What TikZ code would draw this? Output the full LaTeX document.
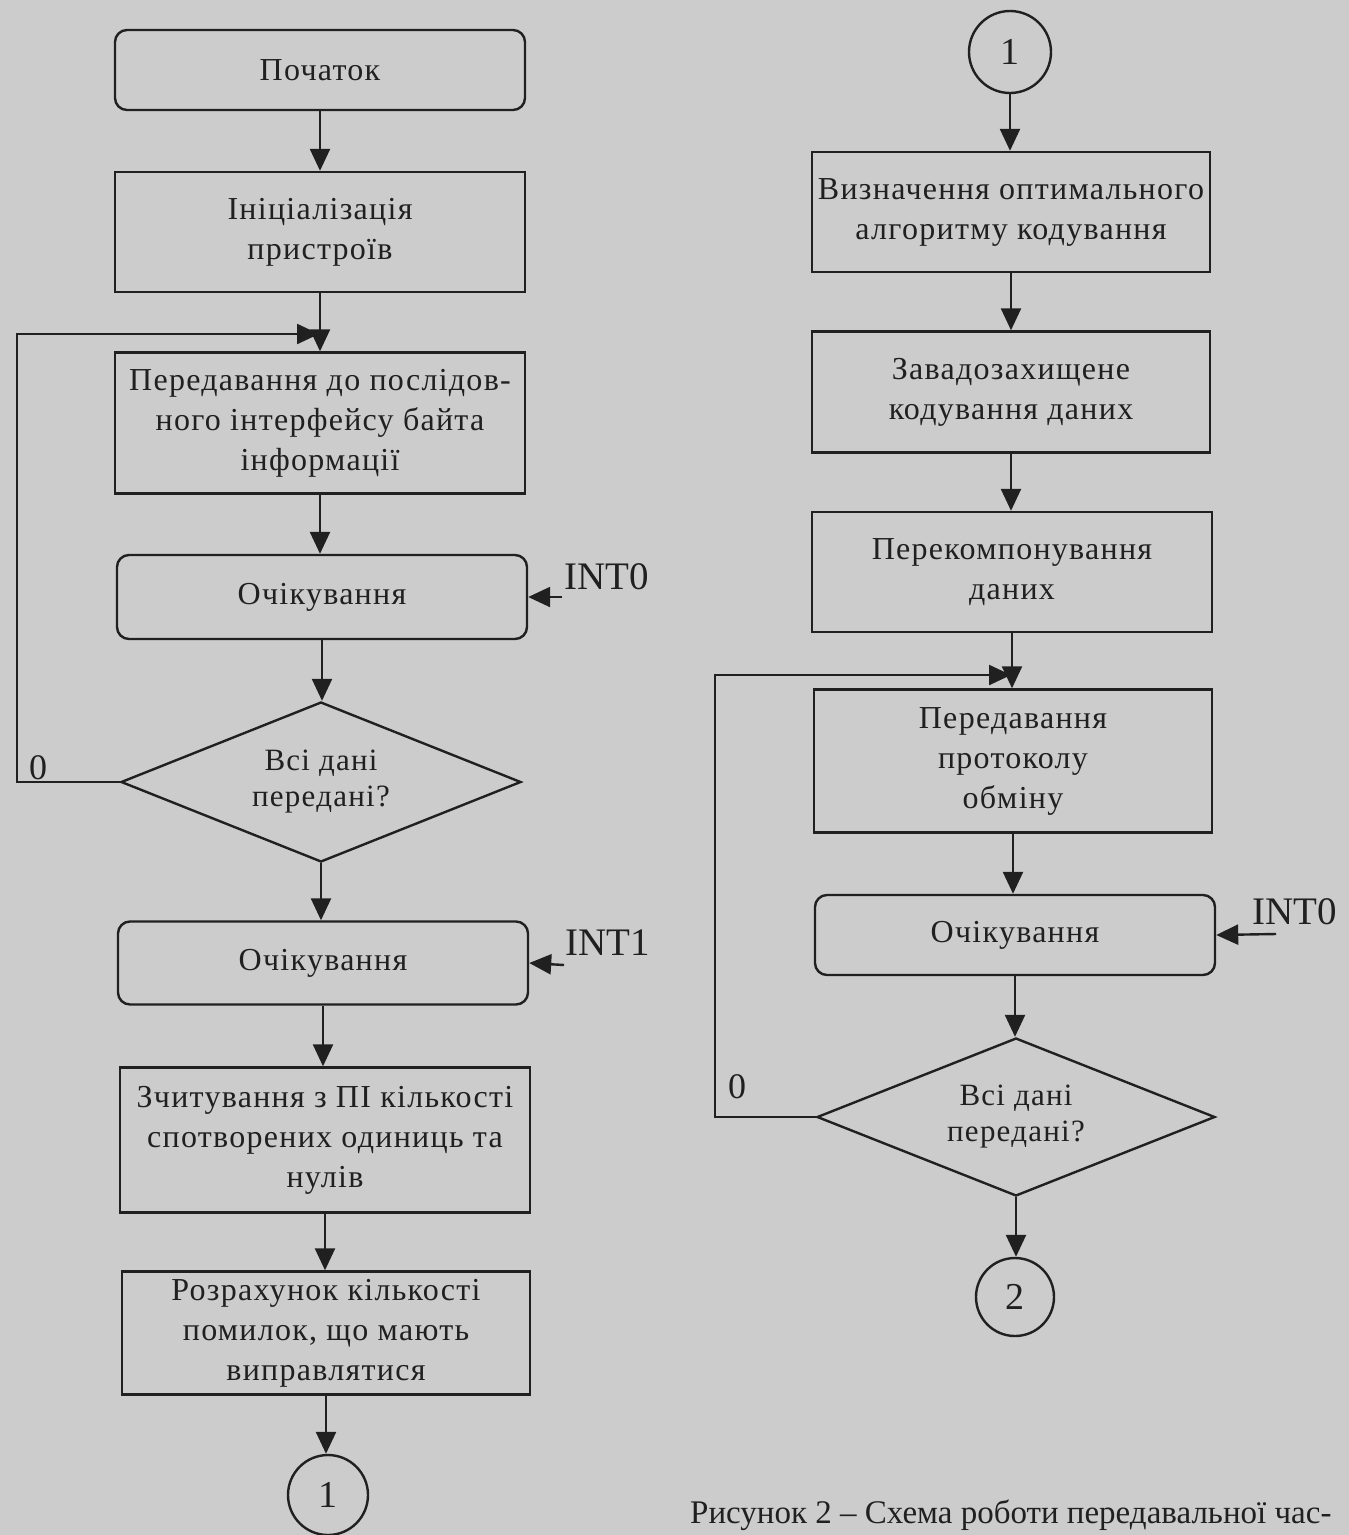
\documentclass[tikz,border=0pt]{standalone}
\usepackage{fontspec}
\setmainfont{Liberation Serif}
\newfontfamily\boxfont[LetterSpace=4]{Liberation Serif}
\usetikzlibrary{arrows.meta,shapes.geometric}
\definecolor{bg}{RGB}{204,204,204}
\definecolor{ink}{RGB}{32,32,32}
\begin{document}
\begin{tikzpicture}[x=1pt,y=-1pt,
  base/.style={draw=ink, line width=2.4pt, inner sep=0pt, align=center, text=ink,
    font=\boxfont\fontsize{32}{40}\selectfont},
  procbox/.style={base, rectangle},
  waitbox/.style={base, rectangle, rounded corners=12pt},
  decbox/.style={base, diamond, aspect=2.5, font=\boxfont\fontsize{31}{36}\selectfont},
  connbox/.style={base, circle, minimum size=#1, font=\fontsize{38}{40}\selectfont},
  lbl/.style={text=ink, inner sep=0pt, font=\fontsize{39}{42}\selectfont},
  flow/.style={draw=ink, line width=2.4pt, -{Triangle[width=20pt,length=22pt]}},
  line/.style={draw=ink, line width=2.4pt}
]
\fill[bg] (0,0) rectangle (1349,1535);
\useasboundingbox (0,0) rectangle (1349,1535);

% ---------- left column ----------
\node[waitbox, minimum width=410pt, minimum height=80pt] (start) at (320,70) {Початок};
\node[procbox, minimum width=410pt, minimum height=120pt] (init) at (320,232) {Ініціалізація\\пристроїв};
\node[procbox, minimum width=410pt, minimum height=141pt] (send) at (320,423) {Передавання до послідов-\\ного інтерфейсу байта\\інформації};
\node[waitbox, minimum width=410pt, minimum height=84pt] (waitA) at (322,597) {Очікування};
\node[decbox, minimum width=400pt, minimum height=160pt] (decA) at (321,782) {Всі дані\\передані?};
\node[waitbox, minimum width=410pt, minimum height=83pt] (waitB) at (323,963) {Очікування};
\node[procbox, minimum width=410pt, minimum height=145pt] (read) at (325,1140) {Зчитування з ПІ кількості\\спотворених одиниць та\\нулів};
\node[procbox, minimum width=408pt, minimum height=123pt] (calc) at (326,1333) {Розрахунок кількості\\помилок, що мають\\виправлятися};
\node[connbox=80pt] (cA) at (328,1495) {1};

\draw[flow] (start.south) -- (start.south |- init.north);
\draw[flow] (init.south) -- (init.south |- send.north);
\draw[flow] (send.south) -- (send.south |- waitA.north);
\draw[flow] (waitA.south) -- (waitA.south |- decA.north);
\draw[flow] (decA.south) -- (decA.south |- waitB.north);
\draw[flow] (waitB.south) -- (waitB.south |- read.north);
\draw[flow] (read.south) -- (read.south |- calc.north);
\draw[flow] (calc.south) -- (calc.south |- cA.north);

\coordinate (lb) at (17,782);
\coordinate (lt) at (17,334);
\coordinate (lj) at (319,334);
\draw[flow] (decA.west) -- (lb) -- (lt) -- (lj);
\node[lbl, font=\fontsize{36}{38}\selectfont] (zA) at (38,768) {0};

\coordinate (iA) at (562,597);
\draw[flow] (iA) -- (waitA.east);
\node[lbl] (tA) at (607,577) {INT0};
\coordinate (iB) at (564,965);
\draw[flow] (iB) -- (waitB.east);
\node[lbl] (tB) at (608,943) {INT1};

% ---------- right column ----------
\node[connbox=82pt] (cB) at (1010,52) {1};
\node[procbox, minimum width=398pt, minimum height=120pt] (opt) at (1011,212) {Визначення оптимального\\алгоритму кодування};
\node[procbox, minimum width=398pt, minimum height=121pt] (prot) at (1011,392) {Завадозахищене\\кодування даних};
\node[procbox, minimum width=400pt, minimum height=120pt] (recomp) at (1012,572) {Перекомпонування\\даних};
\node[procbox, minimum width=398pt, minimum height=143pt] (sendp) at (1013,761) {Передавання\\протоколу\\обміну};
\node[waitbox, minimum width=400pt, minimum height=80pt] (waitC) at (1015,935) {Очікування};
\node[decbox, minimum width=398pt, minimum height=158pt] (decB) at (1016,1117) {Всі дані\\передані?};
\node[connbox=78pt] (cC) at (1015,1297) {2};

\draw[flow] (cB.south) -- (cB.south |- opt.north);
\draw[flow] (opt.south) -- (opt.south |- prot.north);
\draw[flow] (prot.south) -- (prot.south |- recomp.north);
\draw[flow] (recomp.south) -- (recomp.south |- sendp.north);
\draw[flow] (sendp.south) -- (sendp.south |- waitC.north);
\draw[flow] (waitC.south) -- (waitC.south |- decB.north);
\draw[flow] (decB.south) -- (decB.south |- cC.north);

\coordinate (rb) at (715,1117);
\coordinate (rt) at (715,675);
\coordinate (rj) at (1011,675);
\draw[flow] (decB.west) -- (rb) -- (rt) -- (rj);
\node[lbl, font=\fontsize{36}{38}\selectfont] (zB) at (737,1087) {0};

\coordinate (iC) at (1276,934);
\draw[flow] (iC) -- (waitC.east);
\node[lbl] (tC) at (1295,912) {INT0};

% caption
\node[text=ink, inner sep=0pt, anchor=west, font=\fontsize{33}{36}\selectfont] (cap) at (690,1515) {Рисунок 2 – Схема роботи передавальної час-};
\end{tikzpicture}
\end{document}
